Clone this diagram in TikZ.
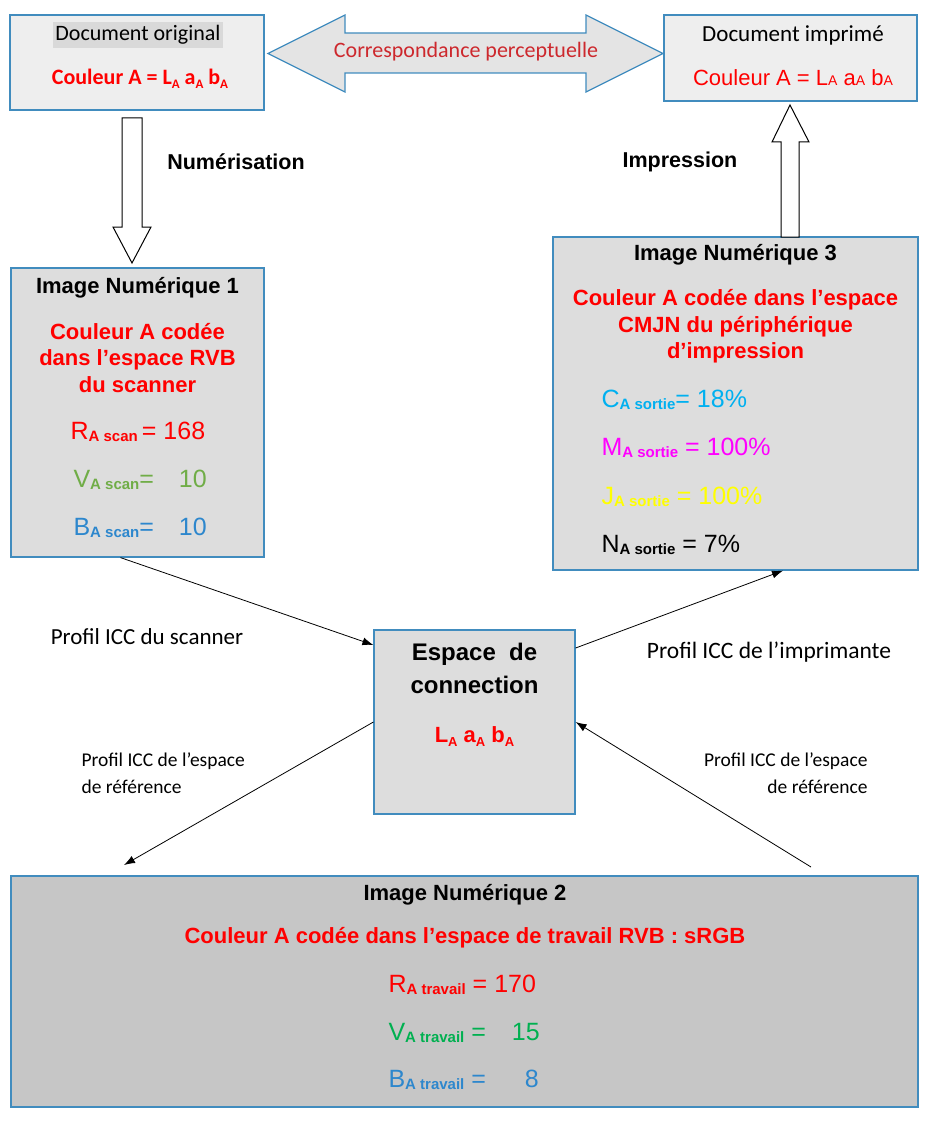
\documentclass[tikz,border=0pt]{standalone}
\usepackage{fontspec}
\setmainfont{Liberation Sans}
\newfontfamily\calib{Carlito}
\usetikzlibrary{arrows.meta,positioning,calc}

\definecolor{bordblue}{RGB}{65,140,190}
\definecolor{docfill}{RGB}{238,238,238}
\definecolor{imgfill}{RGB}{221,221,221}
\definecolor{darkfill}{RGB}{198,198,198}
\definecolor{hilite}{RGB}{217,217,217}
\definecolor{corrred}{RGB}{205,40,45}
\definecolor{scangreen}{RGB}{112,173,71}
\definecolor{workgreen}{RGB}{0,176,80}
\definecolor{valblue}{RGB}{45,135,205}
\definecolor{cyanC}{RGB}{0,176,240}
\definecolor{magM}{RGB}{255,0,255}
\definecolor{yelJ}{RGB}{255,255,0}

\newcommand{\fsz}[2]{\fontsize{#1}{#2}\selectfont}
\newcommand{\subA}[1]{\raisebox{-2pt}{\fsz{15}{15}\bfseries #1}}
\newcommand{\lowA}{\raisebox{-4pt}{\fsz{13}{13}A}}
\newcommand{\smallA}{{\fsz{14}{14}A}}

\begin{document}
\begin{tikzpicture}
[x=1pt,y=-1pt,
docbox/.style={draw=bordblue,line width=1.2pt,fill=docfill,inner sep=0pt},
imgbox/.style={draw=bordblue,line width=1.2pt,fill=imgfill,inner sep=0pt},
ttl/.style={font=\fsz{22}{26}\bfseries},
redtxt/.style={text=red,align=center,font=\fsz{22}{26.5}\bfseries},
val/.style={anchor=west,font=\fsz{25}{30}},
lab/.style={font=\calib\fsz{23}{27}},
hollow/.style={draw=black,fill=white,line width=1pt,line join=miter},
myedge/.style={-{Latex[length=11pt,width=8pt]},line width=.8pt,black}]
\useasboundingbox (0,0) rectangle (929,1126);
%%%%%%%%%%
%%%%% documents
\node (orig) [docbox,minimum width=254pt,minimum height=95pt] at (137,62.5) {};
\node (origt) [fill=hilite,inner xsep=2pt,minimum height=26pt,font=\calib\fsz{22}{26}]
at (138,35) {Document original};
\node (origc) [text=red,font=\calib\fsz{22}{26}\bfseries] at (140,79)
{Couleur A = L\lowA{} a\lowA{} b\lowA};
\node (impr) [docbox,minimum width=253pt,minimum height=86pt] at (790.5,58) {};
\node (imprt) [font=\calib\fsz{23}{27}] at (793,35) {Document imprimé};
\node (imprc) [text=red,font=\fsz{22}{26}] at (793,78)
{Couleur A = L\smallA{} a\smallA{} b\smallA};
%% perceptual match
\coordinate (dl) at (268,53.5);
\coordinate (dr) at (663,53.5);
\draw [draw=bordblue,line width=1.2pt,fill=imgfill!80!white,line join=miter]
(dl) -- ++(77,-38.5) -- ++(0,18) -- ++(241,0) -- ++(0,-18) -- (dr)
-- ++(-77,38.5) -- ++(0,-19) -- ++(-241,0) -- ++(0,19) -- cycle;
\node (corr) [text=corrred,font=\calib\fsz{22}{26}] at (466,52)
{Correspondance perceptuelle};
%%%%%%%%%%
%%%%% digital images
%% image 1
\node (img1) [imgbox,minimum width=253pt,minimum height=289pt] at (137.5,412.5) {};
\node (img1t) [ttl] at (137.5,288) {Image Numérique 1};
\node (img1c) [redtxt] at (137.5,358)
{Couleur A codée\\dans l’espace RVB\\du scanner};
\node (img1r) [val,text=red] at (67,432) {R\subA{A scan}\,= 168};
\node (img1v) [val,text=scangreen] at (70,480) {V\subA{A scan}=\hspace{25pt}10};
\node (img1b) [val,text=valblue] at (70,528) {B\subA{A scan}=\hspace{25pt}10};
%% image 3
\node (img3) [imgbox,minimum width=365pt,minimum height=333pt] at (735.5,403.5) {};
\node (img3t) [ttl] at (735.5,255) {Image Numérique 3};
\node (img3c) [redtxt] at (735.5,326.5)
{Couleur A codée dans l’espace\\CMJN du périphérique\\d’impression};
\node (img3cy) [val,text=cyanC] at (598,400) {C\subA{A sortie}= 18\%};
\node (img3m) [val,text=magM] at (598,448) {M\subA{A sortie} = 100\%};
\node (img3j) [val,text=yelJ] at (598,497) {J\subA{A sortie} = 100\%};
\node (img3n) [val,text=black] at (598,545) {N\subA{A sortie} = 7\%};
%% connection space
\node (esp) [imgbox,minimum width=201pt,minimum height=184pt] at (474.5,722) {};
\node (espt) [align=center,font=\fsz{24}{33}\bfseries] at (474.5,668.5)
{Espace\ \ de\\connection};
\node (espc) [text=red,font=\fsz{22}{26}\bfseries] at (474.5,737)
{L\lowA{} a\lowA{} b\lowA};
%% image 2
\node (img2) [draw=bordblue,line width=1.2pt,fill=darkfill,minimum width=907pt,
minimum height=231pt] at (464.5,991.5) {};
\node (img2t) [ttl] at (465,895) {Image Numérique 2};
\node (img2c) [redtxt] at (465,938)
{Couleur A codée dans l’espace de travail RVB : sRGB};
\node (img2r) [val,text=red] at (385,985) {R\subA{A travail} = 170};
\node (img2v) [val,text=workgreen] at (385,1033) {V\subA{A travail} =\hspace{26pt}15};
\node (img2b) [val,text=valblue] at (385,1080) {B\subA{A travail} =\hspace{39pt}8};
%%%%%%%%%%
%%%%% scan and print
\draw [hollow] (122,118) -- (142,118) -- (142,227) -- (151,227) -- (132,263)
-- (113,227) -- (122,227) -- cycle;
\node (scan) [font=\fsz{21.5}{26}\bfseries] at (236,162) {Numérisation};
\draw [hollow] (781,237) -- (781,142) -- (772,142) -- (790,105) -- (809,142)
-- (799,142) -- (799,237) -- cycle;
\node (print) [font=\fsz{21.5}{26}\bfseries] at (680,162) {Impression};
%%%%%%%%%%
%%%%% ICC profiles
\coordinate (refout) at (124,865);
\coordinate (refin) at (811,867);
\draw [myedge] ([xshift=-17pt]img1.south) -- ([yshift=77pt]esp.west);
\draw [myedge] ([yshift=74pt]esp.east) -- ([xshift=47.5pt]img3.south);
\draw [myedge] (esp.west) -- (refout);
\draw [myedge] (refin) -- (esp.east);
\node (pscan) [lab] at (147,637) {Profil ICC du scanner};
\node (pprint) [lab,font=\calib\fsz{23.5}{27}] at (769,652) {Profil ICC de l’imprimante};
\node (prefl) [lab,anchor=west,align=left,font=\calib\fsz{19.5}{27}] at (78,773)
{Profil ICC de l’espace\\de référence};
\node (prefr) [lab,anchor=east,align=right,font=\calib\fsz{19.5}{27}] at (871,773)
{Profil ICC de l’espace\\de référence};
\end{tikzpicture}
\end{document}
